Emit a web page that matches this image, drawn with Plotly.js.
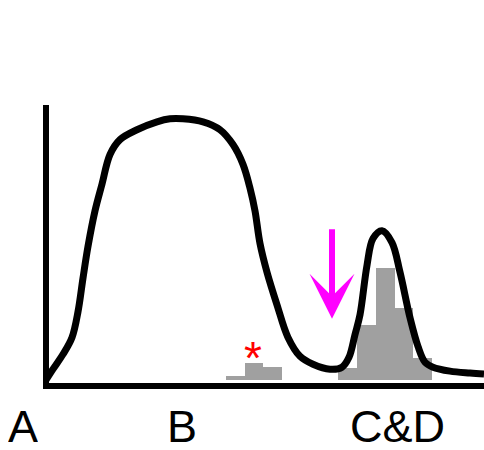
<!DOCTYPE html>
<html>
<head>
<meta charset="utf-8">
<script src="https://cdn.plot.ly/plotly-3.0.1.min.js"></script>
<style>html,body{margin:0;padding:0;background:#fff;}</style>
</head>
<body>
<div id="chart" style="width:484px;height:450px;"></div>
<script>
// Curve (x position, height above baseline)
const curveX = [46, 53, 63, 72, 78, 83, 88, 95, 102, 110, 120, 137, 157, 170, 183, 203, 220, 233, 243, 250, 255, 260, 267, 277, 288, 300, 313, 330, 342, 349, 355, 360, 367, 373, 382, 392, 400, 410, 418, 425, 433, 450, 470, 484];
const curveY = [0, 11, 26, 43, 69, 103, 135, 171, 198, 228, 243, 253, 261, 264, 264, 261, 253, 238, 218, 194, 171, 138, 109, 76, 43, 24, 16, 11, 13, 23, 46, 66, 116, 143, 151, 139, 109, 63, 34, 18, 13, 9, 7, 6];

// Histogram bins (centres) and heights
const binX = [235.4, 254.1, 272.8, 291.6, 310.3, 329.0, 347.7, 366.5, 385.2, 403.9, 422.7];
const binY = [4, 17, 13, 0, 0, 0, 12, 56, 113, 73, 22];
const binWidth = 18.7;

// Labels below the axis (horizontal positions as fraction of the figure width)
const labelX = [23 / 484, 182 / 484, 397 / 484];
const labelText = ['A', 'B', 'C&D'];

// Marker annotations
const starX = 253, starY = 22, starText = '*';
const arrowX = 332, arrowTipY = 62, arrowTailY = 154;

const traces = [
  {
    type: 'bar', x: binX, y: binY, width: binWidth,
    marker: {color: '#a0a0a0', line: {width: 0}},
    hoverinfo: 'skip'
  },
  {
    type: 'scatter', mode: 'lines', x: curveX, y: curveY,
    line: {color: '#000000', width: 7, shape: 'spline', smoothing: 1},
    hoverinfo: 'skip'
  }
];

const annotations = labelX.map((x, i) => ({
  x: x, xref: 'paper', y: 0, yref: 'paper',
  text: labelText[i], showarrow: false,
  xanchor: 'center', yanchor: 'bottom', height: 44, valign: 'middle',
  font: {family: 'Liberation Sans, Arial, sans-serif', size: 45, color: '#000000'}
}));
annotations.push({
  x: starX, y: starY, xref: 'x', yref: 'y', text: starText, showarrow: false,
  xanchor: 'center', yanchor: 'middle',
  font: {family: 'Liberation Sans, Arial, sans-serif', size: 46, color: '#ff0000'}
});
annotations.push({
  x: arrowX, y: arrowTipY, xref: 'x', yref: 'y',
  ax: arrowX, ay: arrowTailY, axref: 'x', ayref: 'y',
  text: '', showarrow: true, arrowhead: 3, arrowwidth: 6, arrowsize: 1.25,
  arrowcolor: '#ff00ff', standoff: 0
});

const layout = {
  width: 484, height: 450,
  margin: {l: 0, r: 0, t: 0, b: 0, pad: 0},
  paper_bgcolor: '#ffffff', plot_bgcolor: '#ffffff',
  showlegend: false,
  bargap: 0,
  xaxis: {
    domain: [49 / 484, 1], range: [49, 484],
    showline: true, linewidth: 6, linecolor: '#000000',
    showgrid: false, zeroline: false, showticklabels: false, ticks: ''
  },
  yaxis: {
    domain: [67 / 450, 345 / 450], range: [-3, 278],
    showline: true, linewidth: 6, linecolor: '#000000',
    showgrid: false, zeroline: false, showticklabels: false, ticks: ''
  },
  annotations: annotations
};

Plotly.newPlot('chart', traces, layout, {displayModeBar: false, staticPlot: true});
</script>
</body>
</html>
